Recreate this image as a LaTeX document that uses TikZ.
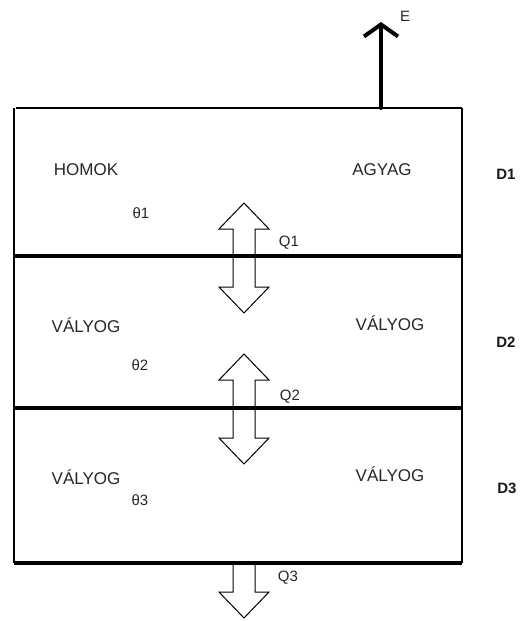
\documentclass[tikz,border=0pt]{standalone}
\usepackage{fontspec}
\setmainfont{Liberation Sans}
\usetikzlibrary{arrows.meta}
\newcommand{\twoway}[2]{\draw[line width=1pt] (#1,#2-55)--(#1+25,#2-29)--(#1+11,#2-29)--(#1+11,#2+29)--(#1+25,#2+29)--(#1,#2+55)--(#1-25,#2+29)--(#1-11,#2+29)--(#1-11,#2-29)--(#1-25,#2-29)--cycle;}
\newcommand{\oneway}[2]{\draw[line width=1pt] (#1-11,#2)--(#1-11,#2+29)--(#1-25,#2+29)--(#1,#2+55)--(#1+25,#2+29)--(#1+11,#2+29)--(#1+11,#2);}

\begin{document}
\begin{tikzpicture}[x=1pt,y=-1pt,
  soil/.style={font=\fontsize{17}{20}\selectfont,text=black!85},
  sym/.style={font=\fontsize{15}{18}\selectfont,text=black!85},
  depth/.style={font=\fontsize{15}{18}\selectfont\bfseries,text=black!90}]
\useasboundingbox (0,0) rectangle (524,621);
\foreach \n/\x/\y in {lt/14/108,rt/462/108,tl/16/108,tr/462/108,al/14/256,ar/462/256,bl/14/408,br/462/408,cl/14/563,cr/462/563,e0/381/108,e1/381/22}{\coordinate (\n) at (\x,\y);}
% layers
\draw[line width=1.3pt] (lt)--(cl) (rt)--(cr);
\draw[line width=2.5pt] (tl)--(tr);
\draw[line width=3.2pt] (al)--(ar) (bl)--(br) (cl)--(cr);
% evaporation
\draw[line width=4pt,line cap=round,-{Straight Barb[length=12pt,width=34pt]}] (e0)--(e1);
\node[sym] (e) at (405,16) {E};
% fluxes
\twoway{244}{258}\twoway{244}{409}\oneway{244}{563}
\node[sym] (q1) at (289,243) {Q1};
\node[sym] (q2) at (290,397) {Q2};
\node[sym] (q3) at (288,578) {Q3};
% soils
\node[soil] (homok) at (86,170) {HOMOK};
\node[soil] (agyag) at (382,170) {AGYAG};
\node[soil] (valyog2l) at (86,325) {VÁLYOG};
\node[soil] (valyog2r) at (390,323) {VÁLYOG};
\node[soil] (valyog3l) at (86,477) {VÁLYOG};
\node[soil] (valyog3r) at (390,474) {VÁLYOG};
\node[sym] (theta1) at (141,213) {θ1};
\node[sym] (theta2) at (140,365) {θ2};
\node[sym] (theta3) at (140,500) {θ3};
\node[depth] (d1) at (506,174) {D1};
\node[depth] (d2) at (506,342) {D2};
\node[depth] (d3) at (507,488) {D3};
\end{tikzpicture}
\end{document}
